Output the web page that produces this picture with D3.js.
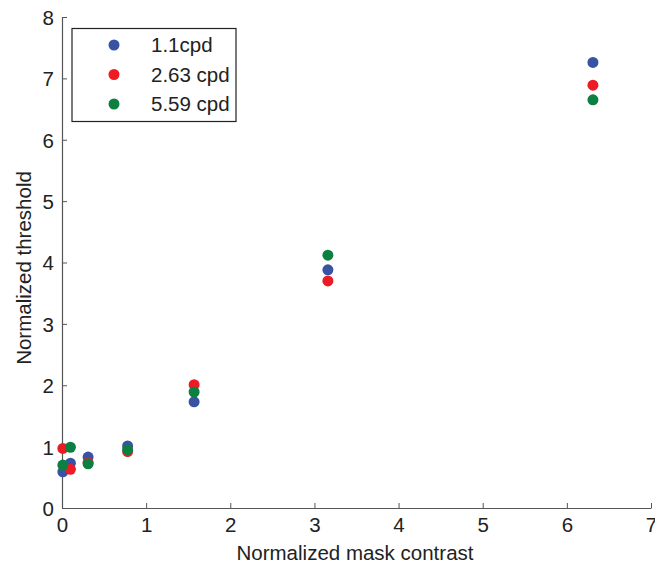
<!DOCTYPE html>
<html><head><meta charset="utf-8">
<script src="https://cdn.jsdelivr.net/npm/d3@7"></script>
<style>body{margin:0;background:#fff}svg{display:block}text{font-family:"Liberation Sans",Arial,sans-serif;fill:#222}</style>
</head><body>
<svg id="c" width="655" height="565"></svg>
<script>
const maskContrast = [0.01, 0.1, 0.31, 0.78, 1.57, 3.16, 6.31];
const thr11 = [0.59, 0.73, 0.83, 1.01, 1.73, 3.88, 7.26];
const thr263 = [0.97, 0.63, 0.74, 0.92, 2.01, 3.70, 6.89];
const thr559 = [0.70, 0.99, 0.72, 0.95, 1.89, 4.12, 6.65];
const seriesNames = ["1.1cpd", "2.63 cpd", "5.59 cpd"];
const seriesColors = ["#3953a4", "#ed1c24", "#0b8040"];
const xTicks = [0,1,2,3,4,5,6,7];
const yTicks = [0,1,2,3,4,5,6,7,8];

const series = [thr11, thr263, thr559].map((v,i)=>({name:seriesNames[i], color:seriesColors[i], values:v}));
const svg = d3.select("#c");
const x = d3.scaleLinear().domain([0,7]).range([62,651]);
const y = d3.scaleLinear().domain([0,8]).range([508,17]);
const FS = 20.5;

const xa = svg.append("g").attr("transform","translate(0,508)")
  .call(d3.axisBottom(x).tickValues(xTicks).tickFormat(d3.format("d")).tickSizeInner(-5).tickSizeOuter(0).tickPadding(9));
const ya = svg.append("g").attr("transform","translate(62,0)")
  .call(d3.axisLeft(y).tickValues(yTicks).tickFormat(d3.format("d")).tickSizeInner(-5).tickSizeOuter(0).tickPadding(8));
[xa,ya].forEach(a=>{
  a.select(".domain").attr("stroke","#555").attr("stroke-width",1.2);
  a.selectAll(".tick line").attr("stroke","#555");
  a.selectAll(".tick text").attr("font-size",FS).attr("font-family","Liberation Sans, Arial, sans-serif").attr("fill","#222");
});
ya.selectAll(".tick text").attr("dy","0.36em");

svg.append("text").attr("x",355).attr("y",560).attr("text-anchor","middle").attr("font-size",FS).text("Normalized mask contrast");
svg.append("text").attr("transform","translate(31,268) rotate(-90)").attr("text-anchor","middle").attr("font-size",FS).text("Normalized threshold");

series.forEach(s=>{
  svg.append("g").selectAll("circle").data(s.values).join("circle")
    .attr("cx",(d,i)=>x(maskContrast[i])).attr("cy",d=>y(d)).attr("r",5.5).attr("fill",s.color);
});

const lg = svg.append("g");
lg.append("rect").attr("x",72).attr("y",28.5).attr("width",164).attr("height",93).attr("fill","#fff").attr("stroke","#222").attr("stroke-width",1.2);
series.forEach((s,i)=>{
  const cy = 45 + i*29.5;
  lg.append("circle").attr("cx",114).attr("cy",cy).attr("r",5.5).attr("fill",s.color);
  lg.append("text").attr("x",151).attr("y",cy).attr("dy","0.36em").attr("font-size",FS).text(s.name);
});
</script>
</body></html>
